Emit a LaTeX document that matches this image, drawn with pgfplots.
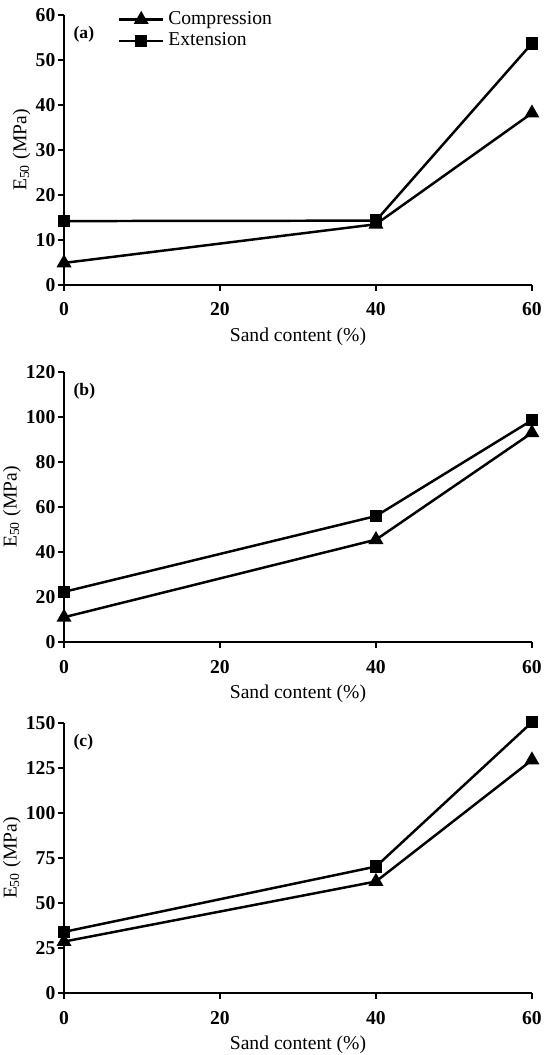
\documentclass[border=0pt]{standalone}
\usepackage{fontspec}
\setmainfont{Liberation Serif}
\usepackage{pgfplots}
\pgfplotsset{compat=1.18}

\tikzset{lab/.style={anchor=north west, font=\fontsize{8.5}{9}\selectfont\bfseries}}

\pgfplotsset{
  panel/.style={
    scale only axis,
    width=226.6pt, height=130.7pt,
    axis lines*=left,
    axis line style={line width=1.4pt},
    xmin=0, xmax=60,
    xtick={0,20,40,60},
    tick style={line width=1.2pt, black},
    tick align=outside,
    major tick length=3pt,
    ymin=0,
    clip=false,
    /pgf/number format/assume math mode=true,
    ticklabel style={font=\fontsize{9.5}{10}\selectfont\bfseries, inner sep=1pt},
    xticklabel style={yshift=-4.5pt},
    label style={font=\fontsize{9.5}{10}\selectfont},
    xlabel={Sand content (\%)},
    xlabel style={yshift=-1pt},
    ylabel={E\textsubscript{50} (MPa)},
    ylabel style={yshift=-2pt},
    every axis plot/.append style={line width=1.2pt, black},
  },
  comp/.style={mark=triangle*, mark size=3pt},
  ext/.style={mark=square*, mark size=2.4pt},
}

\begin{document}
\begin{tikzpicture}
% page frame, same margins as the reference
\path[use as bounding box] (-31pt,-30pt) rectangle (233.9pt,480.9pt);
% (a)
\begin{axis}[panel, at={(0,342.9pt)}, ymax=60, ytick={0,10,...,60},
  legend style={draw=none, fill=none, at={(rel axis cs:0.115,1.03)}, anchor=north west,
    font=\fontsize{9.5}{10}\selectfont, row sep=-1.5pt, inner sep=0pt},
  legend image code/.code={\draw[mark repeat=2,mark phase=2,#1] plot coordinates {(0cm,0cm) (0.37cm,0cm) (0.74cm,0cm)};},
  legend cell align=left]
\addplot[comp] coordinates {(0,4.9) (40,13.5) (60,38.2)};
\addlegendentry{Compression}
\addplot[ext] coordinates {(0,14.2) (40,14.3) (60,53.7)};
\addlegendentry{Extension}
\node[lab] at (rel axis cs:0.005,0.985) {(a)};
\end{axis}
% (b)
\begin{axis}[panel, at={(0,170pt)}, ymax=120, ytick={0,20,...,120}]
\addplot[comp] coordinates {(0,11) (40,45.5) (60,93)};
\addplot[ext] coordinates {(0,22.3) (40,56) (60,98.6)};
\node[lab] at (rel axis cs:0.005,0.985) {(b)};
\end{axis}
% (c)
\begin{axis}[panel, at={(0,0)}, ymax=150, ytick={0,25,...,150}]
\addplot[comp] coordinates {(0,28.6) (40,62) (60,129.5)};
\addplot[ext] coordinates {(0,34) (40,70.3) (60,150.5)};
\node[lab] at (rel axis cs:0.005,0.985) {(c)};
\end{axis}
\end{tikzpicture}
\end{document}
